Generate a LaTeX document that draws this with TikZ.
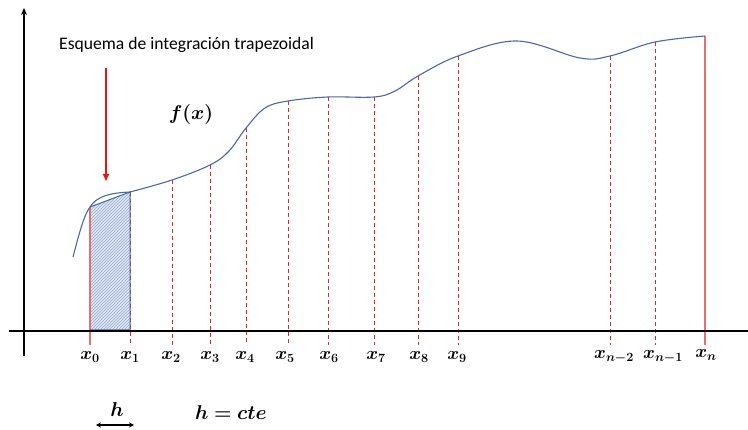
\RequirePackage{fix-cm}
\documentclass[tikz,border=0pt]{standalone}
\usepackage{fontspec}
\usepackage{amsmath,bm}
\setmainfont{Carlito}
\usetikzlibrary{patterns,arrows.meta}
\definecolor{curveblue}{RGB}{72,105,165}
\definecolor{dashred}{RGB}{225,40,40}
\definecolor{solidred}{RGB}{232,110,110}
\definecolor{arrred}{RGB}{235,20,20}
\definecolor{hatchfill}{RGB}{222,230,243}
\tikzset{
  dashline/.style={dashred, dashed, dash pattern=on 4pt off 3pt, line width=0.9pt},
  solidline/.style={solidred, line width=1.1pt},
  xlab/.style={font=\fontsize{18}{20}\selectfont, inner sep=1pt},
  biglab/.style={font=\fontsize{20}{22}\selectfont},
  axis/.style={line width=1.6pt, black}
}
\begin{document}
\begin{tikzpicture}[x=1pt,y=-1pt]
\useasboundingbox (0,0) rectangle (748,430);
% curve points
\coordinate (p0) at (90,207);
\coordinate (p1) at (130,192);
\coordinate (p2) at (172,180);
\coordinate (p3) at (210,165);
\coordinate (p4) at (246,128);
\coordinate (p5) at (288,101);
\coordinate (p6) at (328,97);
\coordinate (p7) at (374,97);
\coordinate (p8) at (418,76);
\coordinate (p9) at (458,56);
\coordinate (pa) at (610,56);
\coordinate (pb) at (655,42);
\coordinate (pn) at (705,36);
% bottoms
\coordinate (b0) at (90,345);
\coordinate (b1) at (130,345);
\coordinate (b2) at (172,345);
\coordinate (b3) at (210,345);
\coordinate (b4) at (246,345);
\coordinate (b5) at (288,345);
\coordinate (b6) at (328,345);
\coordinate (b7) at (374,345);
\coordinate (b8) at (418,345);
\coordinate (b9) at (458,345);
\coordinate (ba) at (610,345);
\coordinate (bb) at (655,345);
\coordinate (bn) at (705,345);
% trapezoid
\coordinate (t0) at (90,330);
\coordinate (t1) at (130,330);
\fill[hatchfill] (p0) -- (p1) -- (t1) -- (t0) -- cycle;
\fill[pattern=north east lines, pattern color=curveblue!55] (p0) -- (p1) -- (t1) -- (t0) -- cycle;
% vertical lines
\draw[solidline] (p0) -- (b0);
\draw[solidline] (pn) -- (bn);
\foreach \i in {1,2,3,4,5,6,7,8,9,a,b} {
  \draw[dashline] (p\i) -- (b\i);
}
\draw[curveblue, line width=1pt] (p0) -- (p1) -- (t1) -- (t0);
% axes
\coordinate (xl) at (9,331);
\coordinate (xr) at (748,331);
\coordinate (yb) at (24,356);
\coordinate (yt) at (24,8);
\draw[axis] (xl) -- (xr);
\draw[axis, -{Stealth[length=7pt,width=6pt]}] (yb) -- (yt);
% curve
\draw[curveblue, line width=1.1pt, line join=round]
 (73,257) .. controls (79,234) and (84,215) .. (p0)
 .. controls (97,196) and (110,193) .. (p1)
 plot[smooth, tension=0.6] coordinates {
 (130,192) (172,180) (210,165) (229,151) (246,128)
 (265,108) (288,101) (328,97) (374,97) (395,91) (418,76) (458,56) (517,41)
 (580,58) (610,56) (655,42) (705,36)};
% labels
\node[xlab] (l0) at (90,357) {$\bm{x}_{\bm{0}}$};
\node[xlab] (l1) at (130,357) {$\bm{x}_{\bm{1}}$};
\node[xlab] (l2) at (171,357) {$\bm{x}_{\bm{2}}$};
\node[xlab] (l3) at (210,357) {$\bm{x}_{\bm{3}}$};
\node[xlab] (l4) at (245,357) {$\bm{x}_{\bm{4}}$};
\node[xlab] (l5) at (285,357) {$\bm{x}_{\bm{5}}$};
\node[xlab] (l6) at (329,357) {$\bm{x}_{\bm{6}}$};
\node[xlab] (l7) at (376,357) {$\bm{x}_{\bm{7}}$};
\node[xlab] (l8) at (419,357) {$\bm{x}_{\bm{8}}$};
\node[xlab] (l9) at (457,357) {$\bm{x}_{\bm{9}}$};
\node[xlab] (la) at (614,357) {$\bm{x}_{\bm{n-2}}$};
\node[xlab] (lb) at (663,357) {$\bm{x}_{\bm{n-1}}$};
\node[xlab] (ln) at (706,355) {$\bm{x}_{\bm{n}}$};
% title
\node[font=\fontsize{17.6}{20}\selectfont, anchor=west, inner sep=0pt] (title) at (59,45) {Esquema de integración trapezoidal};
% red arrow
\coordinate (ra) at (106,68);
\coordinate (rb) at (106,181);
\draw[arrred, line width=1.6pt, -{Triangle[length=7pt,width=6pt]}] (ra) -- (rb);
% f(x)
\node[biglab] (fx) at (191,115) {$\bm{f(x)}$};
% h arrow
\coordinate (ha) at (96,425);
\coordinate (hb) at (134,425);
\draw[black, line width=1.3pt, {Stealth[length=5pt,width=5pt]}-{Stealth[length=5pt,width=5pt]}] (ha) -- (hb);
\node[biglab] (h) at (117,410) {$\bm{h}$};
\node[biglab] (hcte) at (231,413) {$\bm{h=cte}$};
\end{tikzpicture}
\end{document}
